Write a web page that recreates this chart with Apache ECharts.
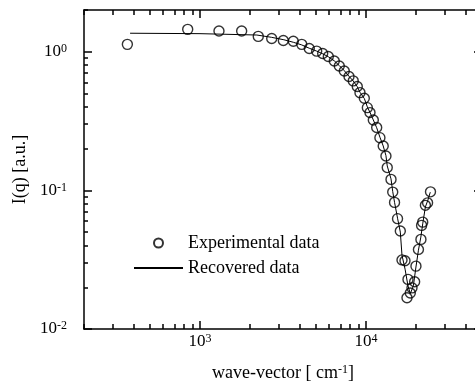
<!DOCTYPE html>
<html>
<head>
<meta charset="utf-8">
<script src="https://cdn.jsdelivr.net/npm/echarts@6/dist/echarts.min.js"></script>
<style>
  html, body { margin: 0; padding: 0; background: #fff; }
  #e_chart_1 { width: 475px; height: 385px; }
</style>
</head>
<body>
<div id="e_chart_1"></div>
<script>
// experimental points (circles)
var expQ = [365, 843, 1301, 1782, 2244, 2704, 3177, 3648, 4101, 4553, 5045, 5483, 5929, 6442,
    6904, 7400, 7900, 8380, 8862, 9200, 9770, 10190, 10570, 11070, 11600, 12130, 12700, 13190,
    13430, 14150, 14490, 14860, 15490, 16100, 16480, 17180, 17910, 17660, 18490, 18930, 19640,
    20000, 20700, 21430, 21970, 21630, 22800, 23500, 24470];
var expI = [1.13, 1.45, 1.41, 1.41, 1.29, 1.245, 1.205, 1.19, 1.13, 1.055, 1.01, 0.97, 0.923, 0.858,
    0.790, 0.727, 0.662, 0.616, 0.561, 0.507, 0.462, 0.395, 0.364, 0.322, 0.284, 0.240, 0.209, 0.177,
    0.146, 0.120, 0.0972, 0.0819, 0.0625, 0.0509, 0.0315, 0.0311, 0.0228, 0.0168, 0.0182, 0.0198, 0.0219,
    0.0284, 0.0375, 0.0443, 0.059, 0.0559, 0.078, 0.0813, 0.0976];

// recovered curve (solid line)
var recQ = [379, 1000, 2200, 2700, 3200, 3650, 4100, 4550, 5050, 5500, 5930, 6440, 6900, 7400,
    7900, 8380, 8860, 9200, 9770, 10190, 10570, 11070, 11600, 12130, 12700, 13190, 13430, 14150,
    14490, 14860, 15490, 16100, 16480, 17200, 17900, 18500, 19300, 20000, 20700, 21400, 22000,
    22800, 23600, 24400];
var recI = [1.36, 1.35, 1.32, 1.27, 1.22, 1.17, 1.12, 1.06, 1.01, 0.965, 0.92, 0.86, 0.795, 0.73,
    0.665, 0.615, 0.56, 0.51, 0.46, 0.40, 0.365, 0.322, 0.283, 0.242, 0.209, 0.178, 0.150, 0.121,
    0.098, 0.082, 0.063, 0.050, 0.034, 0.027, 0.0205, 0.018, 0.0205, 0.028, 0.037, 0.046, 0.058,
    0.076, 0.085, 0.097];

// tick values
var majorQ = [1000, 10000];
var minorQ = [200, 300, 400, 500, 600, 700, 800, 900, 2000, 3000, 4000, 5000, 6000, 7000, 8000,
    9000, 20000, 30000, 40000, 50000];
var majorI = [0.01, 0.1, 1];
var minorI = [0.02, 0.03, 0.04, 0.05, 0.06, 0.07, 0.08, 0.09, 0.2, 0.3, 0.4, 0.5, 0.6, 0.7, 0.8,
    0.9, 2];

var dom = document.getElementById("e_chart_1");
var myChart = echarts.init(dom);
var option = null;

var font = 'Liberation Serif';
var lineStyle = { color: '#000', width: 1.5 };

function powLabel(v) {
    var e = Math.round(Math.log(v) / Math.LN10);
    return '{b|10}{sup|' + e + '}';
}
var labelRich = {
    b: { fontFamily: font, fontSize: 17, color: '#000', lineHeight: 18 },
    sup: { fontFamily: font, fontSize: 12, color: '#000', lineHeight: 11, verticalAlign: 'top' }
};

function xAxisDef(pos, ticks, len, showLine, showLabel) {
    return {
        type: 'log',
        logBase: 10,
        min: 200,
        max: 50000,
        position: pos,
        axisLine: { show: showLine, onZero: false, lineStyle: lineStyle },
        axisTick: { show: true, inside: true, length: len, customValues: ticks, lineStyle: lineStyle },
        axisLabel: {
            show: showLabel,
            customValues: majorQ,
            margin: 4,
            formatter: powLabel,
            rich: labelRich
        },
        splitLine: { show: false },
        minorTick: { show: false }
    };
}
function yAxisDef(pos, ticks, len, showLine, showLabel) {
    return {
        type: 'log',
        logBase: 10,
        min: 0.01,
        max: 2,
        position: pos,
        axisLine: { show: showLine, onZero: false, lineStyle: lineStyle },
        axisTick: { show: true, inside: true, length: len, customValues: ticks, lineStyle: lineStyle },
        axisLabel: {
            show: showLabel,
            customValues: majorI,
            margin: 17,
            formatter: powLabel,
            rich: labelRich
        },
        splitLine: { show: false },
        minorTick: { show: false }
    };
}

var xBottom = xAxisDef('bottom', majorQ, 8, true, true);
xBottom.name = '{t|wave-vector [ cm}{sup|-1}{t|]}';
xBottom.nameLocation = 'middle';
xBottom.nameGap = 35;
xBottom.nameTextStyle = {
    rich: {
        t: { fontFamily: font, fontSize: 18, color: '#000', lineHeight: 19 },
        sup: { fontFamily: font, fontSize: 12, color: '#000', lineHeight: 12, verticalAlign: 'top' }
    }
};

var yLeft = yAxisDef('left', majorI, 8, true, true);
yLeft.name = 'I(q) [a.u.]';
yLeft.nameLocation = 'middle';
yLeft.nameGap = 50;
yLeft.nameTextStyle = { fontFamily: font, fontSize: 18, color: '#000' };

option = {
    backgroundColor: '#fff',
    animation: false,
    grid: {
        left: 84,
        width: 398,
        top: 10,
        bottom: 56,
        containLabel: false,
        outerBoundsMode: 'none'
    },
    legend: {
        orient: 'vertical',
        left: 128,
        top: 228,
        itemWidth: 49,
        itemHeight: 9,
        itemGap: 5,
        textStyle: { fontFamily: font, fontSize: 18, color: '#000', lineHeight: 20 },
        data: [
            { name: 'Experimental data' },
            { name: 'Recovered data', itemStyle: { color: 'rgba(0,0,0,0)', borderWidth: 0, opacity: 0 } }
        ]
    },
    xAxis: [
        xBottom,
        xAxisDef('bottom', minorQ, 5, false, false),
        xAxisDef('top', majorQ, 8, true, false),
        xAxisDef('top', minorQ, 5, false, false)
    ],
    yAxis: [
        yLeft,
        yAxisDef('left', minorI, 4, false, false),
        yAxisDef('right', majorI, 8, true, false),
        yAxisDef('right', minorI, 4, false, false)
    ],
    series: [{
        name: 'Recovered data',
        type: 'line',
        symbol: 'none',
        showSymbol: false,
        smooth: false,
        lineStyle: { color: '#000', width: 1 },
        itemStyle: { color: '#000' },
        data: recQ.map(function (q, i) { return [q, recI[i]]; })
    }, {
        name: 'Experimental data',
        type: 'scatter',
        symbol: 'circle',
        symbolSize: 10,
        itemStyle: { color: 'rgba(255,255,255,0)', borderColor: '#000', borderWidth: 1.4 },
        data: expQ.map(function (q, i) { return [q, expI[i]]; })
    }]
};

if (option && typeof option === "object") {
    myChart.setOption(option, true);
}
</script>
</body>
</html>
